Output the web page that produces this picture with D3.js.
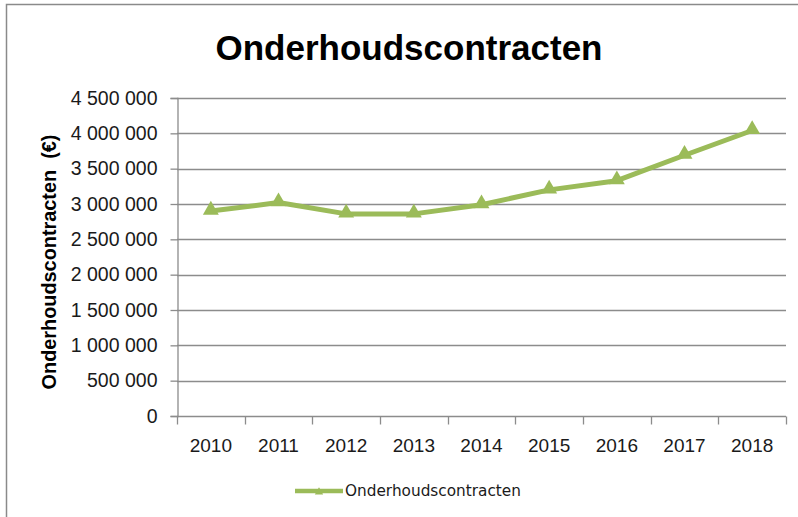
<!DOCTYPE html>
<html>
<head>
<meta charset="utf-8">
<script src="https://cdn.jsdelivr.net/npm/d3@7"></script>
<style>
    html, body { margin: 0; padding: 0; background: #fff; }
    svg { display: block; }
</style>
</head>
<body>
<div id="chart-container"></div>
<script>
// The data we are drawing
var years = ["2010", "2011", "2012", "2013", "2014", "2015", "2016", "2017", "2018"];
var contractValues = [2900000, 3020000, 2860000, 2860000, 2990000, 3200000, 3330000, 3690000, 4040000];
var yTickValues = [0, 500000, 1000000, 1500000, 2000000, 2500000, 3000000, 3500000, 4000000, 4500000];
var seriesName = "Onderhoudscontracten";
var chartTitle = "Onderhoudscontracten";
var yAxisTitle = "Onderhoudscontracten\u00a0\u00a0(€)";

(function () {
    var width = 798, height = 517;
    var lineColor = "#9bbb59";
    var gridColor = "#8c8c8c";

    // Plot area edges in page pixels
    var plot = { left: 177, right: 786, top: 98, bottom: 416 };

    var svg = d3.select("#chart-container")
        .append("svg")
        .attr("width", width)
        .attr("height", height);

    // Outer frame (only left and top edges show in the picture)
    svg.append("path")
        .attr("d", "M6.5," + height + "V4.5H" + width)
        .attr("fill", "none")
        .attr("stroke", "#8a8a8a")
        .attr("stroke-width", 1.5);

    // Number format with a space as thousands separator
    var nl = d3.formatLocale({ decimal: ",", thousands: " ", grouping: [3], currency: ["", " €"] });
    var fmt = nl.format(",");

    // Scales
    var x = d3.scaleBand()
        .domain(years)
        .range([plot.left, plot.right])
        .padding(0);

    var y = d3.scaleLinear()
        .domain([0, 4500000])
        .range([plot.bottom, plot.top]);

    // Shrinks or grows a text so that it is as wide as the picture's one
    function fitWidth(sel, target) {
        var size = parseFloat(sel.attr("font-size"));
        var w = sel.node().getComputedTextLength();
        if (w > 0) sel.attr("font-size", (size * target / w).toFixed(2));
    }

    // Horizontal gridlines
    svg.append("g")
        .selectAll("line")
        .data(yTickValues.slice(1))
        .join("line")
        .attr("x1", plot.left)
        .attr("x2", plot.right)
        .attr("y1", d => Math.round(y(d)) + 0.5)
        .attr("y2", d => Math.round(y(d)) + 0.5)
        .attr("stroke", gridColor)
        .attr("stroke-width", 1.3);

    // Y axis
    var yAxis = svg.append("g")
        .attr("transform", "translate(" + (plot.left + 0.5) + ",0)")
        .call(d3.axisLeft(y).tickValues(yTickValues).tickFormat(fmt).tickSizeOuter(0).tickSize(7).tickPadding(13));
    yAxis.select(".domain").attr("stroke", gridColor).attr("stroke-width", 1.3);
    yAxis.selectAll(".tick line").attr("stroke", gridColor).attr("stroke-width", 1.3);
    yAxis.selectAll("text")
        .attr("font-family", "'Liberation Sans', Arial, sans-serif")
        .attr("font-size", 19.5)
        .attr("fill", "#1a1a1a");
    yAxis.attr("font-size", null).attr("font-family", null);

    // X axis, tick marks sit between the categories
    var xAxis = svg.append("g")
        .attr("transform", "translate(0," + (Math.round(plot.bottom) + 0.5) + ")");
    xAxis.append("line")
        .attr("x1", plot.left)
        .attr("x2", plot.right)
        .attr("stroke", gridColor)
        .attr("stroke-width", 1.3);
    var bounds = years.map(d => x(d)).concat([x(years[years.length - 1]) + x.bandwidth()]);
    xAxis.selectAll("line.tick")
        .data(bounds)
        .join("line")
        .attr("class", "tick")
        .attr("x1", d => Math.round(d) + 0.5)
        .attr("x2", d => Math.round(d) + 0.5)
        .attr("y1", 0)
        .attr("y2", 8)
        .attr("stroke", gridColor)
        .attr("stroke-width", 1.3);
    xAxis.selectAll("text")
        .data(years)
        .join("text")
        .attr("x", d => x(d) + x.bandwidth() / 2)
        .attr("y", 35)
        .attr("text-anchor", "middle")
        .attr("font-family", "'Liberation Sans', Arial, sans-serif")
        .attr("font-size", 19)
        .attr("fill", "#1a1a1a")
        .text(d => d);

    // The data line
    var line = d3.line()
        .x((d, i) => x(years[i]) + x.bandwidth() / 2)
        .y(d => y(d));

    svg.append("path")
        .datum(contractValues)
        .attr("fill", "none")
        .attr("stroke", lineColor)
        .attr("stroke-width", 5)
        .attr("stroke-linejoin", "round")
        .attr("d", line);

    // Triangle markers
    var tri = d3.symbol().type(d3.symbolTriangle).size(110);
    svg.append("g")
        .selectAll("path")
        .data(contractValues)
        .join("path")
        .attr("transform", (d, i) => "translate(" + (x(years[i]) + x.bandwidth() / 2) + "," + (y(d) - 1) + ")")
        .attr("d", tri)
        .attr("fill", lineColor);

    // Chart title
    var title = svg.append("text")
        .attr("x", 409)
        .attr("y", 60)
        .attr("text-anchor", "middle")
        .attr("font-family", "'Liberation Sans Narrow', 'Liberation Sans', Arial, sans-serif")
        .attr("font-weight", "bold")
        .attr("font-size", 36)
        .attr("fill", "#000")
        .text(chartTitle);
    fitWidth(title, 387);

    // Y axis title
    var yTitle = svg.append("text")
        .attr("transform", "translate(56," + 262 + ") rotate(-90)")
        .attr("text-anchor", "middle")
        .attr("font-family", "'Liberation Sans', Arial, sans-serif")
        .attr("font-weight", "bold")
        .attr("font-size", 15)
        .attr("fill", "#000")
        .text(yAxisTitle);
    fitWidth(yTitle, 255);

    // Legend
    var legend = svg.append("g").attr("transform", "translate(295,491)");
    legend.append("line")
        .attr("x1", 0)
        .attr("x2", 48)
        .attr("stroke", lineColor)
        .attr("stroke-width", 4.5);
    legend.append("path")
        .attr("transform", "translate(24,1)")
        .attr("d", d3.symbol().type(d3.symbolTriangle).size(30))
        .attr("fill", lineColor);
    var legendText = legend.append("text")
        .attr("x", 50)
        .attr("y", 5)
        .attr("font-family", "'DejaVu Sans', Verdana, sans-serif")
        .attr("font-size", 13)
        .attr("fill", "#1a1a1a")
        .text(seriesName);
    fitWidth(legendText, 176);
})();
</script>
</body>
</html>
